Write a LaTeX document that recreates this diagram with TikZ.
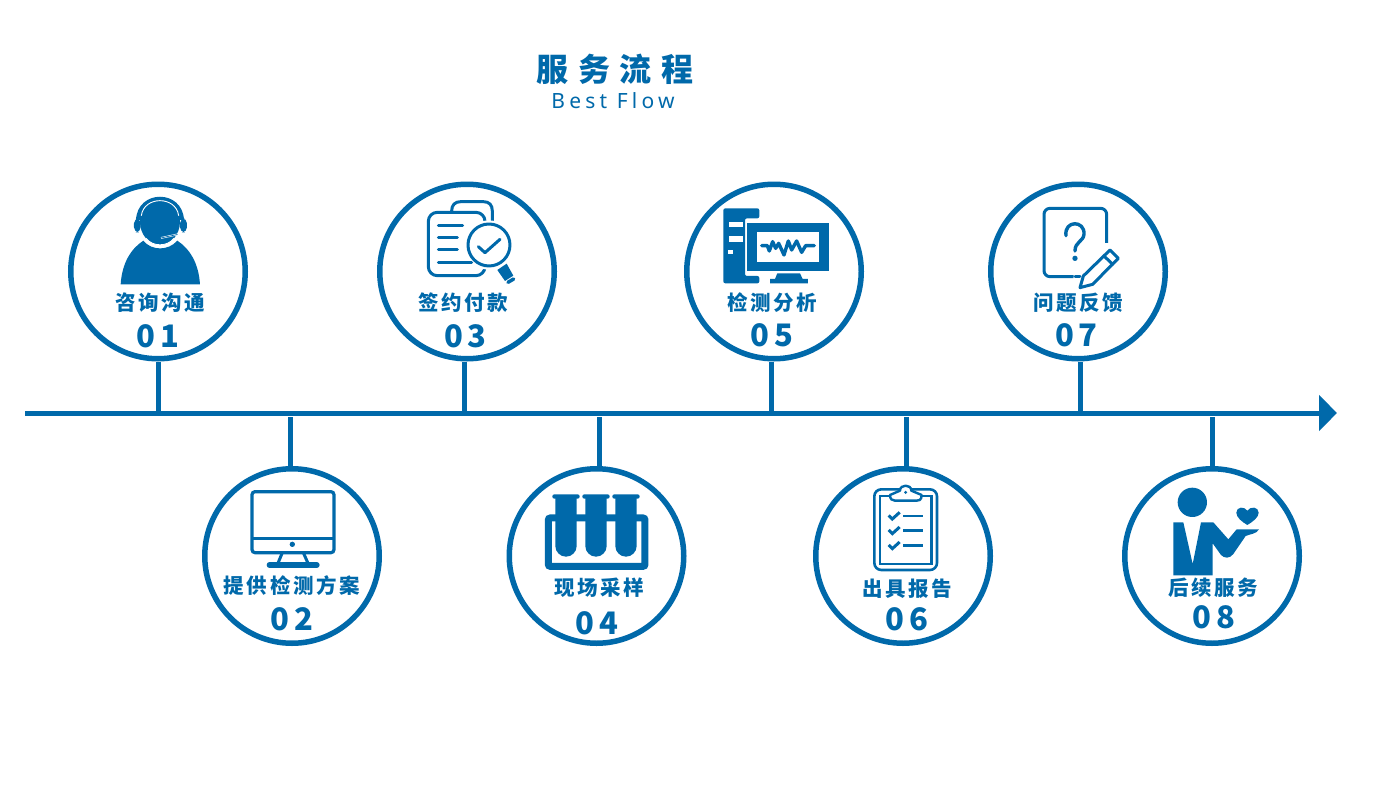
\documentclass[tikz,border=0pt]{standalone}
\usepackage{fontspec}
\usetikzlibrary{arrows.meta}
\setmainfont{Noto Sans}
\newfontfamily\cjklabel[LetterSpace=13]{Noto Sans CJK SC}
\newfontfamily\cjktitle[LetterSpace=30]{Noto Sans CJK SC}
\newfontfamily\numfont[LetterSpace=16]{Noto Sans CJK SC}
\newfontfamily\subfont[LetterSpace=20]{Noto Sans}
\definecolor{brand}{HTML}{0069AA}
\tikzset{
  ring/.style={circle,draw=brand,line width=5.5pt,minimum size=174.5pt,inner sep=0pt,fill=white},
  steplabel/.style={inner sep=0pt,text=brand,font=\fontsize{20.5pt}{22pt}\selectfont\cjklabel\bfseries},
  stepnum/.style={inner sep=0pt,text=brand,font=\fontsize{31pt}{36pt}\selectfont\numfont\bfseries},
  stem/.style={draw=brand,line width=5pt},
  iconframe/.style={x=0.3333pt,y=-0.3333pt},
  thin line/.style={draw=brand,line width=3pt,line cap=round,line join=round},
}
\begin{document}
\begin{tikzpicture}[x=1pt,y=-1pt]
\useasboundingbox[fill=white] (0,0) rectangle (1400,800);

% title
\node[inner sep=0pt,text=brand,font=\fontsize{32pt}{36pt}\selectfont\cjktitle\bfseries] (title) at (615,69) {服务流程};
\node[inner sep=0pt,text=brand,font=\fontsize{21pt}{24pt}\selectfont\subfont] (subtitle) at (613,101) {Best Flow};

% axis
\coordinate (axisL) at (25,413);
\coordinate (axisR) at (1337,413);
\draw[brand,line width=5pt,-{Triangle[length=18pt,width=35pt]}] (axisL) -- (axisR);

% rings
\node[ring] (c1) at (158,271.5) {};
\node[ring] (c3) at (467,271.5) {};
\node[ring] (c5) at (774,271.5) {};
\node[ring] (c7) at (1078,271.5) {};
\node[ring] (c2) at (292,556) {};
\node[ring] (c4) at (596.5,556) {};
\node[ring] (c6) at (903,556) {};
\node[ring] (c8) at (1212,556) {};

% stems
\coordinate (a1) at (158.5,413); \coordinate (a3) at (464,413);
\coordinate (a5) at (771,413);   \coordinate (a7) at (1080,413);
\coordinate (a2) at (290.5,417); \coordinate (a4) at (599.5,417);
\coordinate (a6) at (906.5,417); \coordinate (a8) at (1212.5,417);
\draw[stem] (a1) -- (a1 |- c1.south);
\draw[stem] (a3) -- (a3 |- c3.south);
\draw[stem] (a5) -- (a5 |- c5.south);
\draw[stem] (a7) -- (a7 |- c7.south);
\draw[stem] (a2) -- (a2 |- c2.north);
\draw[stem] (a4) -- (a4 |- c4.north);
\draw[stem] (a6) -- (a6 |- c6.north);
\draw[stem] (a8) -- (a8 |- c8.north);

% labels
\node[steplabel] (l1) at (160,303) {咨询沟通};
\node[stepnum] (n1) at (158,336) {01};
\node[steplabel] (l3) at (463,303) {签约付款};
\node[stepnum] (n3) at (465.5,336) {03};
\node[steplabel] (l5) at (772,303) {检测分析};
\node[stepnum] (n5) at (772,335) {05};
\node[steplabel] (l7) at (1078,303) {问题反馈};
\node[stepnum] (n7) at (1076.5,335) {07};
\node[steplabel] (l2) at (292,586) {提供检测方案};
\node[stepnum] (n2) at (292,619) {02};
\node[steplabel] (l4) at (599,588) {现场采样};
\node[stepnum] (n4) at (597,623) {04};
\node[steplabel] (l6) at (907,589) {出具报告};
\node[stepnum] (n6) at (907,619) {06};
\node[steplabel] (l8) at (1213,588) {后续服务};
\node[stepnum] (n8) at (1214,617) {08};

% icon 01 headset person
\begin{scope}[shift={(60,175)},iconframe]
\fill[brand] (182,328) .. controls (186,265) and (212,222) .. (250,197)
  .. controls (275,228) and (325,228) .. (352,197)
  .. controls (390,222) and (416,265) .. (420,328) -- cycle;
\fill[brand] (300,140) ellipse [x radius=60, y radius=70];
\fill[brand] (228,135) .. controls (232,42) and (368,42) .. (372,135) -- cycle;
\draw[white,line width=0.9pt] (244,122) .. controls (252,62) and (348,62) .. (356,122);
\draw[white,line width=0.9pt] (258,190) .. controls (278,216) and (322,216) .. (342,190);
\fill[brand,rounded corners=5pt] (222,130) rectangle (242,172);
\fill[brand,rounded corners=5pt] (360,130) rectangle (381,172);
\draw[white,line width=1.8pt,line cap=round] (354,178) -- (298,190);
\draw[brand,line width=0.7pt,line cap=round] (352,178.5) -- (298,190);
\fill[brand] (297,190) circle [radius=6];
\end{scope}

% icon 03 document + magnifier
\begin{scope}[shift={(370,175)},iconframe]
\draw[thin line] (245,108) .. controls (245,90) and (255,80) .. (272,80) -- (340,80) .. controls (358,80) and (367,90) .. (367,108) -- (367,140);
\draw[thin line,fill=white,rounded corners=9pt] (175,112) rectangle (345,302);
\fill[white] (357,210) circle [radius=74];
\draw[thin line] (357,210) circle [radius=63];
\draw[thin line] (325,215) -- (345,233) -- (390,193);
\foreach \yy/\xx in {152/278,188/262,225/262,263/305}{\draw[thin line] (205,\yy) -- (\xx,\yy);}
\fill[brand] (382,285) -- (410,266) -- (430,302) -- (405,318) -- cycle;
\draw[brand,line width=3.5pt,line cap=round] (414,322) -- (431,312);
\end{scope}

% icon 05 computer
\begin{scope}[shift={(680,175)},iconframe]
\fill[brand,rounded corners=2pt] (130,100) -- (238,100) -- (238,130) -- (195,130) -- (195,303) -- (238,303) -- (238,325) -- (130,325) -- cycle;
\fill[white] (148,140) rectangle (188,157);
\fill[white] (148,182) rectangle (188,200);
\fill[white] (145,226) rectangle (160,238);
\fill[brand] (202,145) rectangle (448,288);
\fill[white] (230,170) rectangle (418,262);
\draw[brand,line width=3.4pt,line join=round,line cap=round] (245,212) -- (262,212) -- (268,228) -- (278,200) -- (287,220) -- (296,205) -- (312,240) -- (325,198) -- (335,225) -- (350,198) -- (365,232) -- (377,212) -- (403,212);
\fill[brand] (292,295) -- (360,295) -- (368,312) -- (384,312) -- (384,325) -- (270,325) -- (270,312) -- (285,312) -- cycle;
\end{scope}

% icon 07 note + pen
\begin{scope}[shift={(980,175)},iconframe]
\draw[thin line,rounded corners=6pt] (380,215) -- (380,100) -- (192,100) -- (192,305) -- (300,305);
\draw[thin line] (300,305) -- (380,215);
\fill[white] (285,200) -- (395,205) -- (430,260) -- (330,345) -- (280,320) -- cycle;
\draw[thin line,line width=3.4pt] (258,182) .. controls (252,135) and (315,135) .. (312,178) .. controls (310,200) and (285,200) .. (285,228);
\fill[brand] (285,250) circle [radius=8];
\draw[thin line] (310,303) -- (390,225) -- (415,250) -- (338,328) -- (300,338) -- cycle;
\draw[thin line] (372,243) -- (398,268);
\draw[thin line] (300,305) -- (285,305);
\end{scope}

% icon 02 monitor
\begin{scope}[shift={(195,460)},iconframe]
\draw[brand,line width=3.2pt,rounded corners=3pt] (171,95) rectangle (417,278);
\draw[brand,line width=3.2pt] (171,235) -- (417,235);
\fill[brand] (292,253) circle [radius=8];
\draw[brand,line width=3pt] (262,278) -- (248,312);
\draw[brand,line width=3pt] (325,278) -- (340,312);
\draw[brand,line width=5.3pt,line cap=round] (223,315) -- (366,315);
\end{scope}

% icon 04 test tubes
\begin{scope}[shift={(500,460)},iconframe]
\draw[brand,line width=7pt,rounded corners=2pt] (145,174) rectangle (435,319);
\foreach \cx in {198,288,378}{
  \fill[brand] (\cx-32,110) -- (\cx+32,110) -- (\cx+32,258) arc[start angle=0,end angle=180,radius=32] -- cycle;
  \fill[brand,rounded corners=2pt] (\cx-41,103) rectangle (\cx+41,116);
}
\end{scope}

% icon 06 clipboard
\begin{scope}[shift={(805,460)},iconframe]
\draw[brand,line width=2.6pt,rounded corners=7pt] (208,88) rectangle (396,330);
\draw[brand,line width=2.4pt] (225,108) rectangle (380,312);
\draw[brand,line width=2.4pt,fill=white,line join=round] (255,105) -- (285,92) .. controls (285,72) and (319,72) .. (319,92) -- (350,105) .. controls (350,122) and (340,122) .. (335,122) -- (270,122) .. controls (262,122) and (255,118) .. (255,105) -- cycle;
\fill[brand] (302,97) circle [radius=5];
\foreach \yy in {168,212,257}{
  \draw[brand,line width=2.6pt] (295,\yy) -- (355,\yy);
  \draw[brand,line width=3pt,line join=miter] (251,\yy-2) -- (262,\yy+9) -- (284,\yy-11);
}
\end{scope}

% icon 08 person with heart
\begin{scope}[shift={(1115,460)},iconframe]
\fill[brand] (232,127) circle [radius=44];
\fill[brand] (175,187) -- (205,187) -- (233,312) -- (258,187) -- (295,187) -- (340,238) -- (365,208) -- (432,208) .. controls (425,222) and (405,222) .. (392,228) -- (355,282) .. controls (345,296) and (328,296) .. (318,285) -- (293,250) -- (293,346) -- (175,346) -- cycle;
\fill[brand] (397,195) .. controls (380,185) and (364,172) .. (364,158) .. controls (364,140) and (388,138) .. (397,152) .. controls (406,138) and (431,140) .. (431,158) .. controls (431,172) and (414,185) .. (397,195) -- cycle;
\end{scope}
\end{tikzpicture}
\end{document}
